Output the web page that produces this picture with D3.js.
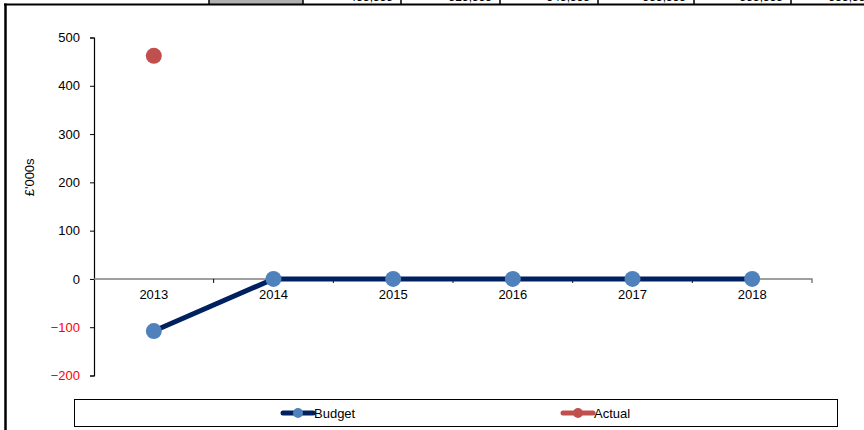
<!DOCTYPE html>
<html>
<head>
<meta charset="utf-8">
<script src="https://cdn.jsdelivr.net/npm/d3@7"></script>
<style>
  html, body { margin: 0; padding: 0; background: #fff; }
  svg { display: block; font-family: "Liberation Sans", Arial, sans-serif; }
</style>
</head>
<body>
<svg id="chart" width="864" height="430"></svg>
<script>
// Financial years shown on the category axis
const years = ["2013", "2014", "2015", "2016", "2017", "2018"];
// £'000s per year; null where no figure exists
const budget = [-108, 0, 0, 0, 0, 0];
const actual = [462, null, null, null, null, null];
// Value axis ticks
const yTicks = [-200, -100, 0, 100, 200, 300, 400, 500];
// Row of the sheet table sitting above the chart (only its lower edge shows)
const tableCells = ["", "", "455,555", "325,555", "345,555", "555,555", "555,555", "555,555"];

const svg = d3.select("#chart");
const W = 864, H = 430;

// --- spreadsheet strip at the very top ---
const cellEdges = [5, 209, 303, 401, 500, 598, 694, 791, 880];
const strip = svg.append("g");
strip.append("rect").attr("x", 209).attr("y", -2).attr("width", 94).attr("height", 6).attr("fill", "#b0b0b0");
tableCells.forEach((t, i) => {
  if (!t) return;
  strip.append("text")
    .attr("x", cellEdges[i + 1] - 8).attr("y", 1)
    .attr("text-anchor", "end").attr("font-size", 12).attr("fill", "#000").text(t);
});
cellEdges.slice(1, -1).forEach(x => {
  strip.append("line").attr("x1", x).attr("x2", x).attr("y1", 0).attr("y2", 4)
    .attr("stroke", "#000").attr("stroke-width", 1.5);
});
strip.append("line").attr("x1", 4).attr("x2", W).attr("y1", 4.5).attr("y2", 4.5)
  .attr("stroke", "#000").attr("stroke-width", 2);
// left border of the chart frame
svg.append("line").attr("x1", 5.5).attr("x2", 5.5).attr("y1", 3.5).attr("y2", H)
  .attr("stroke", "#000").attr("stroke-width", 2.5);

// --- scales ---
const x = d3.scaleBand().domain(years).range([94, 812]);
const y = d3.scaleLinear().domain([-200, 500]).range([375.5, 37.5]);
const cx = d => x(d) + x.bandwidth() / 2;

// --- value axis ---
const yAxis = svg.append("g").attr("transform", "translate(94,0)")
  .call(d3.axisLeft(y).tickValues(yTicks).tickSize(4).tickPadding(10).tickFormat(d3.format("d")));
yAxis.select(".domain").attr("stroke", "#000").attr("stroke-width", 1.2);
yAxis.selectAll(".tick line").attr("stroke", "#000");
yAxis.selectAll(".tick text")
  .attr("font-size", 13).attr("font-family", "Liberation Sans, Arial, sans-serif")
  .attr("fill", d => d < 0 ? "#ff0000" : "#000");

svg.append("text")
  .attr("transform", `translate(34,${y(200) - 5}) rotate(-90)`)
  .attr("text-anchor", "middle").attr("font-size", 13).attr("fill", "#000")
  .text("£'000s");

// --- category axis on the zero line ---
const xAxis = svg.append("g").attr("transform", `translate(0,${y(0)})`)
  .call(d3.axisBottom(x).tickSize(0).tickPadding(11));
xAxis.select(".domain").attr("stroke", "#808080").attr("stroke-width", 1.5)
  .attr("d", `M94,0H812V4`);
xAxis.selectAll(".tick text").attr("font-size", 13)
  .attr("font-family", "Liberation Sans, Arial, sans-serif").attr("fill", "#000");
// separator ticks between categories
svg.append("g").selectAll("line").data(years.slice(1))
  .join("line")
  .attr("x1", d => x(d)).attr("x2", d => x(d))
  .attr("y1", y(0)).attr("y2", y(0) + 4)
  .attr("stroke", "#000").attr("stroke-width", 1);

// --- series ---
const budgetColor = "#002060", budgetMarker = "#4f81bd";
const actualColor = "#c0504d";
const line = d3.line().defined(d => d.v != null).x(d => cx(d.k)).y(d => y(d.v));

const budgetPts = years.map((k, i) => ({ k, v: budget[i] }));
const actualPts = years.map((k, i) => ({ k, v: actual[i] }));

svg.append("path").datum(budgetPts).attr("d", line)
  .attr("fill", "none").attr("stroke", budgetColor).attr("stroke-width", 5)
  .attr("stroke-linejoin", "round");
svg.append("path").datum(actualPts).attr("d", line)
  .attr("fill", "none").attr("stroke", actualColor).attr("stroke-width", 5);

svg.append("g").selectAll("circle").data(budgetPts.filter(d => d.v != null))
  .join("circle").attr("cx", d => cx(d.k)).attr("cy", d => y(d.v)).attr("r", 8)
  .attr("fill", budgetMarker);
svg.append("g").selectAll("circle").data(actualPts.filter(d => d.v != null))
  .join("circle").attr("cx", d => cx(d.k)).attr("cy", d => y(d.v)).attr("r", 8)
  .attr("fill", actualColor);

// --- legend ---
const legend = svg.append("g");
legend.append("rect").attr("x", 74.5).attr("y", 399.5).attr("width", 763).attr("height", 27)
  .attr("fill", "#fff").attr("stroke", "#000").attr("stroke-width", 1);
const items = [
  { name: "Budget", line: budgetColor, dot: budgetMarker, x: 283 },
  { name: "Actual", line: actualColor, dot: actualColor, x: 563 }
];
items.forEach(it => {
  const g = legend.append("g").attr("transform", `translate(${it.x},413)`);
  g.append("line").attr("x1", 0).attr("x2", 30).attr("y1", 0).attr("y2", 0)
    .attr("stroke", it.line).attr("stroke-width", 5).attr("stroke-linecap", "round");
  g.append("circle").attr("cx", 15).attr("cy", 0).attr("r", 5).attr("fill", it.dot);
  g.append("text").attr("x", 31).attr("y", 4.5).attr("font-size", 13).attr("fill", "#000").text(it.name);
});
</script>
</body>
</html>
